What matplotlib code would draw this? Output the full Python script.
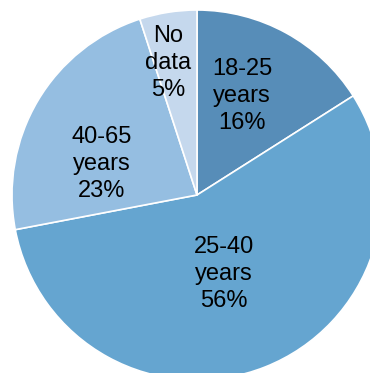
import matplotlib
matplotlib.use("Agg")
import matplotlib.pyplot as plt

# age groups of respondents
groups = ["18-25\nyears", "25-40\nyears", "40-65\nyears", "No\ndata"]
shares = [16, 56, 23, 5]
colors = ["#578db8", "#65a5d0", "#95bee1", "#c5d8ed"]

# label anchor points, in units of the pie radius
label_pos = [(0.243, 0.535), (0.146, -0.427), (-0.514, 0.168), (-0.157, 0.714)]

plt.rcParams["font.family"] = ["Liberation Sans", "DejaVu Sans"]

fig = plt.figure(figsize=(3.70, 3.73), dpi=100)
ax = fig.add_axes([12 / 370, -7 / 373, 370 / 370, 370 / 373])

ax.pie(shares, colors=colors, startangle=90, counterclock=False, radius=1.0,
       wedgeprops=dict(edgecolor="white", linewidth=1.2))

for name, val, (x, y) in zip(groups, shares, label_pos):
    ax.text(x, y, "%s\n%d%%" % (name, val), ha="center", va="center",
            fontsize=17, linespacing=1.27, color="black")

ax.set_xlim(-1, 1)
ax.set_ylim(-1, 1)
ax.set_aspect("equal")
ax.axis("off")

fig.savefig("out.png", dpi=100)
